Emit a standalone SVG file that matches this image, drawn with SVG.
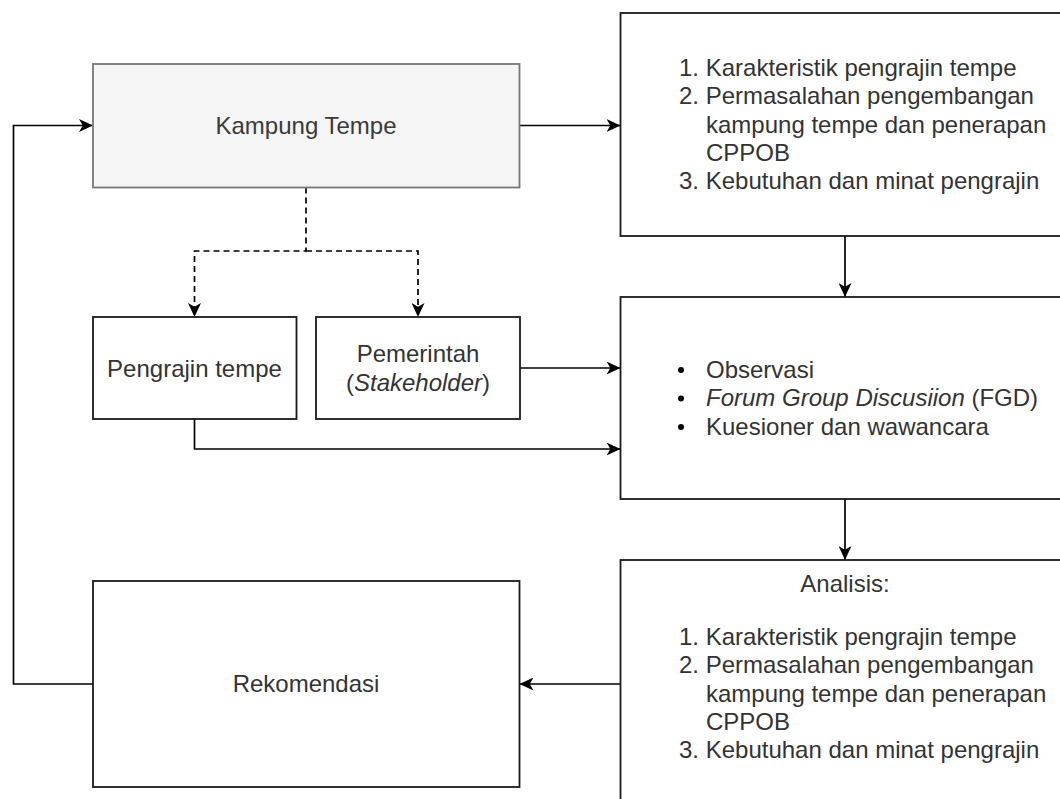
<svg xmlns="http://www.w3.org/2000/svg" width="1060" height="799" viewBox="0 0 1060 799">
<style>
  .box{fill:#ffffff;stroke:#1a1a1a;stroke-width:1.8}
  .grey{fill:#f5f5f5;stroke:#777777;stroke-width:1.8}
  .t{font-family:"Liberation Sans",Arial,Helvetica,sans-serif;font-size:24px;fill:#333333}
  .tg{fill:#3a3a3a}
  .c{text-anchor:middle}
  .con{fill:none;stroke:#000000;stroke-width:1.7}
  .dash{stroke-dasharray:6 4}
</style>
<defs>
  <marker id="arr" viewBox="0 0 14 13" markerWidth="14" markerHeight="13" refX="13.5" refY="6.5" orient="auto" markerUnits="userSpaceOnUse">
    <path d="M0,0 L14,6.5 L0,13 L3.8,6.5 Z" fill="#000000"/>
  </marker>
</defs>
<rect width="1060" height="799" fill="#ffffff"/>

<g id="connectors">
  <path class="con" d="M519.5 125.5 H620" marker-end="url(#arr)"/>
  <path class="con" d="M845 236 V296.5" marker-end="url(#arr)"/>
  <path class="con" d="M520 368 H620" marker-end="url(#arr)"/>
  <path class="con" d="M194.5 419 V449 H620" marker-end="url(#arr)"/>
  <path class="con" d="M845 499 V559.5" marker-end="url(#arr)"/>
  <path class="con" d="M620.5 684 H520" marker-end="url(#arr)"/>
  <path class="con" d="M93 684 H13.5 V125.5 H92.5" marker-end="url(#arr)"/>
  <path class="con dash" d="M306 187.5 V251 H194.5 V316.5" marker-end="url(#arr)"/>
  <path class="con dash" d="M306 251 H418 V316.5" marker-end="url(#arr)"/>
</g>

<g id="kampung-tempe">
  <rect class="grey" x="93" y="64" width="426.5" height="123.5"/>
  <text class="t tg c" x="306" y="134">Kampung Tempe</text>
</g>

<g id="identifikasi">
  <rect class="box" x="620.5" y="13" width="450" height="223"/>
  <text class="t" x="679" y="76">1. Karakteristik pengrajin tempe</text>
  <text class="t" x="679" y="104.3">2. Permasalahan pengembangan</text>
  <text class="t" x="706" y="132.6">kampung tempe dan penerapan</text>
  <text class="t" x="706" y="160.9">CPPOB</text>
  <text class="t" x="679" y="189.2">3. Kebutuhan dan minat pengrajin</text>
</g>

<g id="pengrajin-tempe">
  <rect class="box" x="93" y="317" width="203.5" height="102"/>
  <text class="t c" x="194.5" y="376.5">Pengrajin tempe</text>
</g>

<g id="pemerintah">
  <rect class="box" x="316" y="317" width="204" height="102"/>
  <text class="t c" x="418" y="362">Pemerintah</text>
  <text class="t c" x="418" y="390.5">(<tspan font-style="italic">Stakeholder</tspan>)</text>
</g>

<g id="metode">
  <rect class="box" x="620.5" y="297" width="450" height="202"/>
  <circle cx="681" cy="370" r="3" fill="#000000"/>
  <circle cx="681" cy="398.5" r="3" fill="#000000"/>
  <circle cx="681" cy="427" r="3" fill="#000000"/>
  <text class="t" x="706" y="377.5">Observasi</text>
  <text class="t" x="706" y="406"><tspan font-style="italic">Forum Group Discusiion</tspan> (FGD)</text>
  <text class="t" x="706" y="434.5">Kuesioner dan wawancara</text>
</g>

<g id="analisis">
  <rect class="box" x="620.5" y="560" width="450" height="250"/>
  <text class="t c" x="845" y="591.5">Analisis:</text>
  <text class="t" x="679" y="645">1. Karakteristik pengrajin tempe</text>
  <text class="t" x="679" y="673.3">2. Permasalahan pengembangan</text>
  <text class="t" x="706" y="701.6">kampung tempe dan penerapan</text>
  <text class="t" x="706" y="729.9">CPPOB</text>
  <text class="t" x="679" y="758.2">3. Kebutuhan dan minat pengrajin</text>
</g>

<g id="rekomendasi">
  <rect class="box" x="93" y="581" width="426.5" height="206"/>
  <text class="t c" x="306" y="692">Rekomendasi</text>
</g>
</svg>
